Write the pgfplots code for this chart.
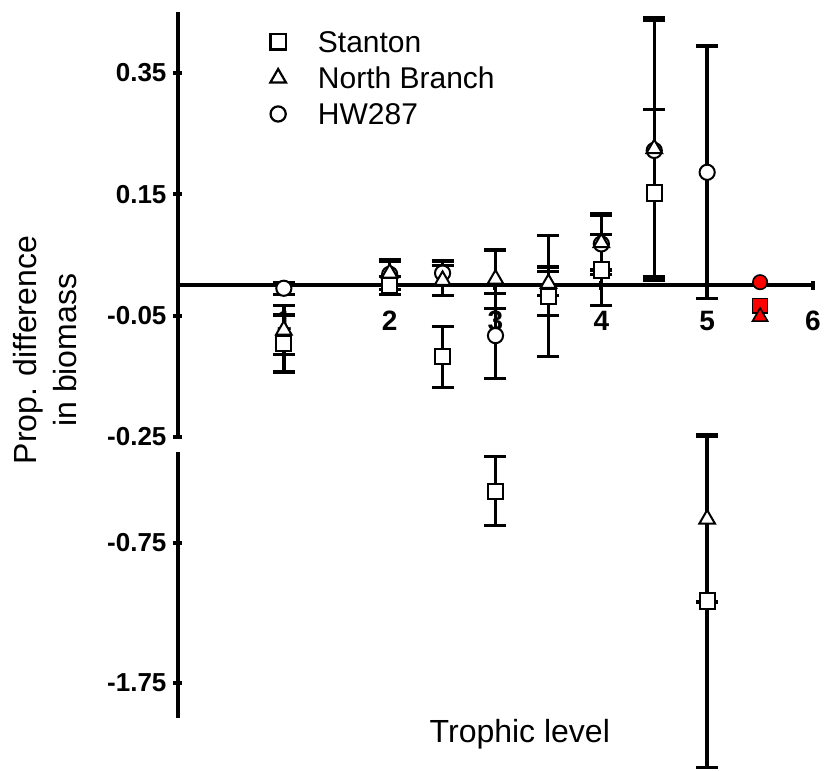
\documentclass[border=0pt]{standalone}
\usepackage{fontspec}
\setmainfont{Liberation Sans}
\usepackage{pgfplots}
\usepackage{pgfplotstable}
\pgfplotsset{compat=1.18}
\usetikzlibrary{calc}

% x, mean, error (upper segment of the broken axis)
\pgfplotstableread{
x    y       e
1    -0.096  0.047
2     0.000  0.015
2.5  -0.118  0.050
3.5  -0.018  0.100
4     0.025  0.058
4.5   0.152  0.138
}\stantonUp
\pgfplotstableread{
x    y       e
1    -0.074  0.040
2     0.020  0.020
2.5   0.008  0.025
3     0.010  0.048
3.5   0.003  0.020
4     0.070  0.045
4.5   0.225  0.216
}\northUp
\pgfplotstableread{
x    y       e
1    -0.005  0.010
2     0.018  0.025
2.5   0.020  0.020
3    -0.083  0.070
3.5  -0.010  0.040
4     0.068  0.050
4.5   0.222  0.214
5     0.186  0.208
}\hwUp
% lower segment
\pgfplotstableread{
x    y       e
3    -0.380  0.245
5    -1.164  1.190
}\stantonLow
\pgfplotstableread{
x    y       e
5    -0.579  0.593
}\northLow

\pgfplotsset{
  brk/.style={
    scale only axis, width=317.5pt, xmin=0, xmax=6, clip=false,
    tick style={line width=2pt, black},
    major tick length=4.5pt,
    tick align=outside,
    yticklabel style={font=\fontsize{13}{13}\selectfont\bfseries},
    xticklabel style={font=\fontsize{14}{14}\selectfont\bfseries, yshift=-7pt},
  },
  openpts/.style={
    only marks, black, forget plot, line width=1.7pt,
    mark options={fill=white, draw=black, line width=1pt, solid},
    error bars/y dir=both, error bars/y explicit,
    error bars/error bar style={line width=1.7pt, black},
    error bars/error mark options={rotate=90, mark size=5.5pt, line width=1.6pt, black},
  },
}

\begin{document}
\begin{tikzpicture}
\begin{axis}[brk, name=upper,
  height=212.5pt, ymin=-0.25, ymax=0.45,
  axis x line=middle, axis y line=left,
  axis line style={-, line width=2pt},
  xtick={1,2,3,4,5,6}, xticklabels={1,2,3,4,5,6},
  ytick={-0.25,-0.05,0.15,0.35},
  yticklabels={-0.25,-0.05,0.15,0.35},
  legend style={at={(axis cs:0.85,0.426)}, anchor=north west, draw=none,
    fill=none, font=\fontsize{15}{15}\selectfont, inner sep=1pt,
    row sep=5pt, cells={anchor=west},
    nodes={text height=11pt, text depth=0pt, inner ysep=1pt},
    /tikz/every odd column/.append style={column sep=14pt}},
]
\addlegendimage{only marks, mark=square, mark size=3.8pt, mark options={line width=1.1pt}}
\addlegendentry{Stanton}
\addlegendimage{only marks, mark=triangle, mark size=4.5pt, mark options={line width=1.1pt}}
\addlegendentry{North Branch}
\addlegendimage{only marks, mark=o, mark size=3.8pt, mark options={line width=1.1pt}}
\addlegendentry{HW287}

\addplot[openpts, mark=*, mark size=3.8pt] table[x=x, y=y, y error=e] {\hwUp};
\addplot[openpts, mark=triangle*, mark size=4.5pt] table[x=x, y=y, y error=e] {\northUp};
\addplot[openpts, mark=square*, mark size=3.8pt] table[x=x, y=y, y error=e] {\stantonUp};

% trophic level 5.5, no error bars
\addplot[only marks, forget plot, mark=*, mark size=3.6pt,
  mark options={fill=red, draw=black, line width=0.8pt}] coordinates {(5.5,0.005)};
\addplot[only marks, forget plot, mark=square*, mark size=3.7pt,
  mark options={fill=red, draw=black, line width=0.8pt}] coordinates {(5.5,-0.034)};
\addplot[only marks, forget plot, mark=triangle*, mark size=4.4pt,
  mark options={fill=red, draw=black, line width=0.8pt}] coordinates {(5.5,-0.052)};

\node[rotate=90, align=center, font=\fontsize{16}{20}\selectfont]
  at (axis cs:-1.257,-0.107) {Prop. difference\\in biomass};
\end{axis}

\begin{axis}[brk, name=lower,
  at={($(upper.south west)+(0,-7.5pt)$)}, anchor=north west,
  height=133pt, ymin=-2.0, ymax=-0.1,
  axis x line=none, axis y line=left,
  axis line style={-, line width=2pt},
  ytick={-1.75,-0.75}, yticklabels={-1.75,-0.75},
]
\addplot[openpts, mark=triangle*, mark size=4.5pt] table[x=x, y=y, y error=e] {\northLow};
\addplot[openpts, mark=square*, mark size=3.8pt] table[x=x, y=y, y error=e] {\stantonLow};
\node[font=\fontsize{16}{19}\selectfont] at (axis cs:3.23,-2.114) {Trophic level};
\end{axis}

\pgfresetboundingbox
\path[use as bounding box] ($(upper.south west)+(-89pt,-167pt)$)
  rectangle ($(upper.south west)+(323.5pt,218.5pt)$);
\end{tikzpicture}
\end{document}
